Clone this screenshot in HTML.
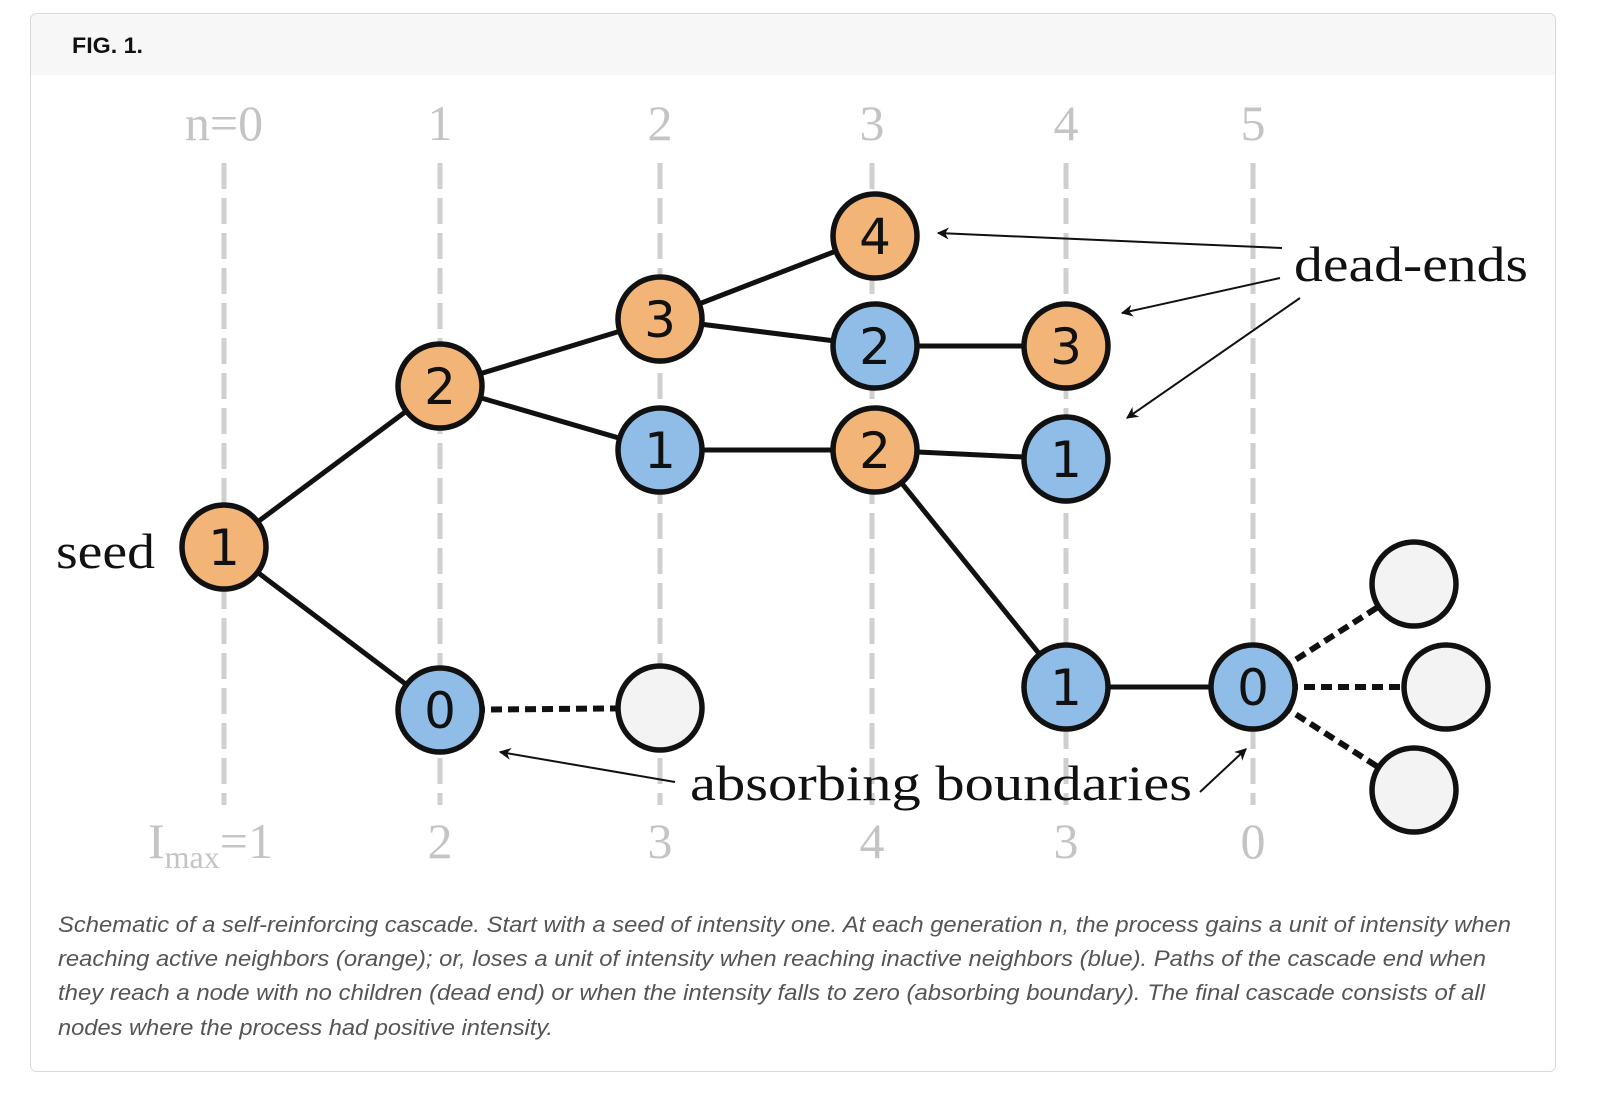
<!DOCTYPE html>
<html><head><meta charset="utf-8"><style>
html,body{margin:0;padding:0;background:#fff;}
svg{display:block;}
</style></head><body>
<svg width="1600" height="1101" viewBox="0 0 1600 1101" xmlns="http://www.w3.org/2000/svg">
<defs>
<marker id="ah" viewBox="0 0 10 10" refX="9" refY="5" markerWidth="12" markerHeight="12" markerUnits="userSpaceOnUse" orient="auto">
<path d="M0,0 L10,5 L0,10 L3,5 z" fill="#111"/></marker>
</defs>
<rect x="30.5" y="13.5" width="1525" height="1058" rx="6" fill="#fff" stroke="#d9d9d9"/>
<path d="M31,20 a6,6 0 0 1 6,-6 H1549 a6,6 0 0 1 6,6 V75 H31 z" fill="#f7f7f7"/>
<text x="72" y="53" font-family="Liberation Sans, sans-serif" font-weight="bold" font-size="22" fill="#111" textLength="71" lengthAdjust="spacingAndGlyphs">FIG. 1.</text>

<g stroke="#cfcfcf" stroke-width="5" stroke-dasharray="26,9">
<line x1="224" y1="163" x2="224" y2="805"/>
<line x1="440" y1="163" x2="440" y2="805"/>
<line x1="660" y1="163" x2="660" y2="805"/>
<line x1="872" y1="163" x2="872" y2="805"/>
<line x1="1066" y1="163" x2="1066" y2="805"/>
<line x1="1253" y1="163" x2="1253" y2="805"/>
</g>
<g font-family="Liberation Serif, serif" font-size="50" fill="#c4c4c4" text-anchor="middle">
<text x="224" y="140">n=0</text><text x="440" y="140">1</text><text x="660" y="140">2</text>
<text x="872" y="140">3</text><text x="1066" y="140">4</text><text x="1253" y="140">5</text>
<text x="440" y="858">2</text><text x="660" y="858">3</text><text x="872" y="858">4</text>
<text x="1066" y="858">3</text><text x="1253" y="858">0</text>
<text x="148" y="858" text-anchor="start">I<tspan font-size="32" dy="10">max</tspan><tspan dy="-10">=1</tspan></text>
</g>

<g stroke="#111" stroke-width="5" fill="none">
<line x1="224" y1="547" x2="440" y2="386"/>
<line x1="224" y1="547" x2="440" y2="710"/>
<line x1="440" y1="386" x2="660" y2="319"/>
<line x1="440" y1="386" x2="660" y2="450"/>
<line x1="660" y1="319" x2="875" y2="236"/>
<line x1="660" y1="319" x2="875" y2="346"/>
<line x1="875" y1="346" x2="1066" y2="346"/>
<line x1="660" y1="450" x2="875" y2="450"/>
<line x1="875" y1="450" x2="1066" y2="459"/>
<line x1="875" y1="450" x2="1066" y2="687"/>
<line x1="1066" y1="687" x2="1253" y2="687"/>
</g>
<g stroke="#111" stroke-width="6" stroke-dasharray="11,6" fill="none">
<line x1="440" y1="710" x2="660" y2="708"/>
<line x1="1253" y1="687" x2="1414" y2="584"/>
<line x1="1253" y1="687" x2="1446" y2="687"/>
<line x1="1253" y1="687" x2="1414" y2="790"/>
</g>

<g stroke="#111" stroke-width="5.5">
<g fill="#f2b577">
<circle cx="224" cy="547" r="42"/><circle cx="440" cy="386" r="42"/><circle cx="660" cy="319" r="42"/>
<circle cx="875" cy="236" r="42"/><circle cx="875" cy="450" r="42"/><circle cx="1066" cy="346" r="42"/>
</g>
<g fill="#8fbde8">
<circle cx="440" cy="710" r="42"/><circle cx="660" cy="450" r="42"/><circle cx="875" cy="346" r="42"/>
<circle cx="1066" cy="459" r="42"/><circle cx="1066" cy="687" r="42"/><circle cx="1253" cy="687" r="42"/>
</g>
<g fill="#f3f3f3">
<circle cx="660" cy="708" r="42"/><circle cx="1414" cy="584" r="42"/><circle cx="1446" cy="687" r="42"/><circle cx="1414" cy="790" r="42"/>
</g>
</g>
<g font-family="DejaVu Sans, Liberation Sans, sans-serif" font-size="50" fill="#111" text-anchor="middle">
<text x="224" y="565">1</text><text x="440" y="404">2</text><text x="660" y="337">3</text>
<text x="875" y="254">4</text><text x="875" y="468">2</text><text x="1066" y="364">3</text>
<text x="440" y="728">0</text><text x="660" y="468">1</text><text x="875" y="364">2</text>
<text x="1066" y="477">1</text><text x="1066" y="705">1</text><text x="1253" y="705">0</text>
</g>

<g font-family="Liberation Serif, serif" font-size="50" fill="#111">
<text x="56" y="568" textLength="99" lengthAdjust="spacingAndGlyphs">seed</text>
<text x="1294" y="281" textLength="234" lengthAdjust="spacingAndGlyphs">dead-ends</text>
<text x="690" y="800" textLength="502" lengthAdjust="spacingAndGlyphs">absorbing boundaries</text>
</g>
<g stroke="#111" stroke-width="2" fill="none" marker-end="url(#ah)">
<line x1="1282" y1="248" x2="938" y2="233"/>
<line x1="1280" y1="278" x2="1122" y2="313"/>
<line x1="1300" y1="298" x2="1127" y2="418"/>
<line x1="675" y1="782" x2="500" y2="752"/>
<line x1="1200" y1="792" x2="1246" y2="749"/>
</g>

<g font-family="Liberation Sans, sans-serif" font-style="italic" font-size="22" fill="#555">
<text x="58" y="932" textLength="1453" lengthAdjust="spacingAndGlyphs">Schematic of a self-reinforcing cascade. Start with a seed of intensity one. At each generation n, the process gains a unit of intensity when</text>
<text x="58" y="966" textLength="1428" lengthAdjust="spacingAndGlyphs">reaching active neighbors (orange); or, loses a unit of intensity when reaching inactive neighbors (blue). Paths of the cascade end when</text>
<text x="58" y="1000" textLength="1427" lengthAdjust="spacingAndGlyphs">they reach a node with no children (dead end) or when the intensity falls to zero (absorbing boundary). The final cascade consists of all</text>
<text x="58" y="1035" textLength="495" lengthAdjust="spacingAndGlyphs">nodes where the process had positive intensity.</text>
</g>
</svg>
</body></html>
